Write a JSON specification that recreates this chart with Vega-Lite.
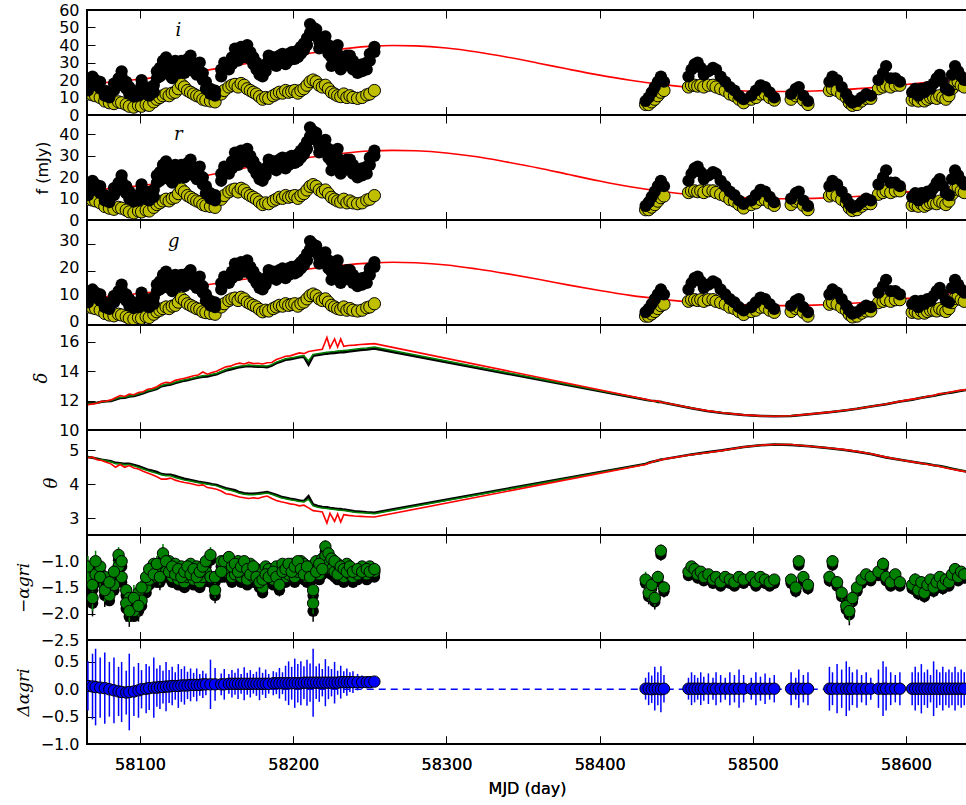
{
"$schema":"https://vega.github.io/schema/vega-lite/v6.json",
"background":"white",
"padding":{"left":13,"top":1,"right":0,"bottom":0},
"spacing":0,
"bounds":"flush",
"config":{
 "view":{"stroke":"black","strokeWidth":2},
 "font":"DejaVu Sans",
 "axis":{"domain":false,"grid":false,"tickColor":"black","tickWidth":1,"tickSize":-8,"labelFontSize":16,"labelColor":"black","labelFont":"DejaVu Sans","labelPadding":16,"labelOverlap":false,"labelBound":false,"labelFlush":false,"titleFont":"DejaVu Sans","titleFontSize":16,"titleFontWeight":"normal","titleColor":"black","titlePadding":8}
},
"datasets":{
"obs":[
{"t":58066,"fi":17,"yi":12,"fr":14.1,"yr":9.7,"fg":10.2,"yg":6.7,"a":-1.1,"b":-1.2,"e":0.2,"d":0.06,"de":0.45,"fi2":14,"fr2":11.6,"fg2":8.4,"a2":-1.3,"b2":-1.4},
{"t":58069,"fi":19,"yi":11.5,"fr":15.8,"yr":9.3,"fg":11.4,"yg":6.4,"a":-1.7,"b":-1.8,"e":0.25,"d":0.05,"de":0.6,"fi2":22,"fr2":18.3,"fg2":13.2,"a2":-1.45,"b2":-1.55},
{"t":58071,"fi":20,"yi":11,"fr":16.6,"yr":8.9,"fg":12,"yg":6.1,"a":-1.0,"b":-1.1,"e":0.2,"d":0.04,"de":0.7,"fi2":17,"fr2":14.1,"fg2":10.2,"a2":-1.25,"b2":-1.35},
{"t":58074,"fi":15,"yi":10,"fr":12.5,"yr":8,"fg":9,"yg":5.5,"a":-1.3,"b":-1.4,"e":0.2,"d":0.03,"de":0.55,"fi2":19,"fr2":15.8,"fg2":11.4,"a2":-1.1,"b2":-1.2},
{"t":58077,"fi":11,"yi":8,"fr":9.1,"yr":6.3,"fg":6.6,"yg":4.3,"a":-1.55,"b":-1.65,"e":0.22,"d":0.02,"de":0.65,"fi2":14,"fr2":11.6,"fg2":8.4,"a2":-1.3,"b2":-1.4},
{"t":58080,"fi":13,"yi":7,"fr":10.8,"yr":5.5,"fg":7.8,"yg":3.7,"a":-1.4,"b":-1.5,"e":0.2,"d":0,"de":0.5,"fi2":10,"fr2":8.3,"fg2":6,"a2":-1.65,"b2":-1.75},
{"t":58083,"fi":18,"yi":6.5,"fr":14.9,"yr":5,"fg":10.8,"yg":3.4,"a":-1.2,"b":-1.3,"e":0.2,"d":-0.02,"de":0.6,"fi2":14,"fr2":11.6,"fg2":8.4,"a2":-1.45,"b2":-1.55},
{"t":58086,"fi":21,"yi":7.5,"fr":17.4,"yr":5.9,"fg":12.6,"yg":4,"a":-0.88,"b":-0.98,"e":0.15,"d":-0.04,"de":0.45,"fi2":17,"fr2":14.1,"fg2":10.2,"a2":-1.1,"b2":-1.2},
{"t":58088,"fi":22,"yi":7,"fr":18.3,"yr":5.5,"fg":13.2,"yg":3.7,"a":-1.0,"b":-1.1,"e":0.18,"d":-0.05,"de":0.55,"fi2":25,"fr2":20.8,"fg2":15,"a2":-1.3,"b2":-1.4},
{"t":58091,"fi":15,"yi":6,"fr":12.5,"yr":4.6,"fg":9,"yg":3.1,"a":-1.8,"b":-1.9,"e":0.25,"d":-0.06,"de":0.4,"fi2":19,"fr2":15.8,"fg2":11.4,"a2":-1.55,"b2":-1.65},
{"t":58093,"fi":12,"yi":5,"fr":10,"yr":3.8,"fg":7.2,"yg":2.5,"a":-1.95,"b":-2.05,"e":0.2,"d":-0.05,"de":0.7,"fi2":16,"fr2":13.3,"fg2":9.6,"a2":-1.7,"b2":-1.8},
{"t":58096,"fi":10.5,"yi":4.5,"fr":8.7,"yr":3.3,"fg":6.3,"yg":2.2,"a":-1.7,"b":-1.8,"e":0.25,"d":-0.04,"de":0.45,"fi2":13,"fr2":10.8,"fg2":7.8,"a2":-1.95,"b2":-2.05},
{"t":58099,"fi":14,"yi":5.5,"fr":11.6,"yr":4.2,"fg":8.4,"yg":2.8,"a":-1.85,"b":-1.95,"e":0.2,"d":-0.02,"de":0.5,"fi2":11,"fr2":9.1,"fg2":6.6,"a2":-1.6,"b2":-1.7},
{"t":58101,"fi":17,"yi":5,"fr":14.1,"yr":3.8,"fg":10.2,"yg":2.5,"a":-1.5,"b":-1.6,"e":0.2,"d":0,"de":0.35,"fi2":20,"fr2":16.6,"fg2":12,"a2":-1.75,"b2":-1.85},
{"t":58104,"fi":12,"yi":6,"fr":10,"yr":4.6,"fg":7.2,"yg":3.1,"a":-1.3,"b":-1.4,"e":0.18,"d":0.01,"de":0.45,"fi2":16,"fr2":13.3,"fg2":9.6,"a2":-1.5,"b2":-1.6},
{"t":58106,"fi":11,"yi":5.5,"fr":9.1,"yr":4.2,"fg":6.6,"yg":2.8,"a":-1.15,"b":-1.25,"e":0.15,"d":0.02,"de":0.4,"fi2":14,"fr2":11.6,"fg2":8.4,"a2":-1.35,"b2":-1.45},
{"t":58109,"fi":17,"yi":7.5,"fr":14.1,"yr":5.9,"fg":10.2,"yg":4,"a":-1.25,"b":-1.35,"e":0.15,"d":0.03,"de":0.55,"fi2":13,"fr2":10.8,"fg2":7.8,"a2":-1.05,"b2":-1.15},
{"t":58111,"fi":21,"yi":9,"fr":17.4,"yr":7.2,"fg":12.6,"yg":4.9,"a":-1.05,"b":-1.15,"e":0.15,"d":0.03,"de":0.35,"fi2":25,"fr2":20.8,"fg2":15,"a2":-1.3,"b2":-1.4},
{"t":58113,"fi":27,"yi":10,"fr":22.4,"yr":8,"fg":16.2,"yg":5.5,"a":-1.3,"b":-1.4,"e":0.15,"d":0.04,"de":0.4,"fi2":22,"fr2":18.3,"fg2":13.2,"a2":-1.1,"b2":-1.2},
{"t":58115,"fi":31,"yi":11,"fr":25.7,"yr":8.9,"fg":18.6,"yg":6.1,"a":-0.85,"b":-0.95,"e":0.18,"d":0.04,"de":0.3,"fi2":24,"fr2":19.9,"fg2":14.4,"a2":-1.05,"b2":-1.15},
{"t":58117,"fi":28,"yi":12,"fr":23.2,"yr":9.7,"fg":16.8,"yg":6.7,"a":-1.0,"b":-1.1,"e":0.12,"d":0.05,"de":0.45,"fi2":33,"fr2":27.4,"fg2":19.8,"a2":-1.2,"b2":-1.3},
{"t":58119,"fi":23,"yi":11,"fr":19.1,"yr":8.9,"fg":13.8,"yg":6.1,"a":-1.2,"b":-1.3,"e":0.12,"d":0.05,"de":0.3,"fi2":27,"fr2":22.4,"fg2":16.2,"a2":-1.0,"b2":-1.1},
{"t":58121,"fi":25,"yi":12.5,"fr":20.8,"yr":10.1,"fg":15,"yg":7,"a":-1.1,"b":-1.2,"e":0.12,"d":0.06,"de":0.35,"fi2":21,"fr2":17.4,"fg2":12.6,"a2":-1.3,"b2":-1.4},
{"t":58123,"fi":27,"yi":13,"fr":22.4,"yr":10.6,"fg":16.2,"yg":7.3,"a":-1.25,"b":-1.35,"e":0.12,"d":0.06,"de":0.25,"fi2":31,"fr2":25.7,"fg2":18.6,"a2":-1.05,"b2":-1.15},
{"t":58125,"fi":29,"yi":15,"fr":24.1,"yr":12.3,"fg":17.4,"yg":8.5,"a":-1.15,"b":-1.25,"e":0.12,"d":0.06,"de":0.4,"fi2":24,"fr2":19.9,"fg2":14.4,"a2":-1.35,"b2":-1.45},
{"t":58127,"fi":26,"yi":17.5,"fr":21.6,"yr":14.4,"fg":15.6,"yg":10,"a":-1.3,"b":-1.4,"e":0.12,"d":0.07,"de":0.3,"fi2":31,"fr2":25.7,"fg2":18.6,"a2":-1.1,"b2":-1.2},
{"t":58129,"fi":29,"yi":16,"fr":24.1,"yr":13.1,"fg":17.4,"yg":9.1,"a":-1.2,"b":-1.3,"e":0.12,"d":0.07,"de":0.35,"fi2":24,"fr2":19.9,"fg2":14.4,"a2":-1.4,"b2":-1.5},
{"t":58131,"fi":32,"yi":14,"fr":26.6,"yr":11.4,"fg":19.2,"yg":7.9,"a":-1.1,"b":-1.2,"e":0.1,"d":0.07,"de":0.25,"fi2":28,"fr2":23.2,"fg2":16.8,"a2":-1.3,"b2":-1.4},
{"t":58133,"fi":30,"yi":13,"fr":24.9,"yr":10.6,"fg":18,"yg":7.3,"a":-1.25,"b":-1.35,"e":0.1,"d":0.08,"de":0.3,"fi2":34,"fr2":28.2,"fg2":20.4,"a2":-1.05,"b2":-1.15},
{"t":58135,"fi":25,"yi":12,"fr":20.8,"yr":9.7,"fg":15,"yg":6.7,"a":-1.15,"b":-1.25,"e":0.1,"d":0.08,"de":0.22,"fi2":29,"fr2":24.1,"fg2":17.4,"a2":-1.35,"b2":-1.45},
{"t":58137,"fi":28,"yi":11,"fr":23.2,"yr":8.9,"fg":16.8,"yg":6.1,"a":-1.3,"b":-1.4,"e":0.1,"d":0.08,"de":0.3,"fi2":23,"fr2":19.1,"fg2":13.8,"a2":-1.1,"b2":-1.2},
{"t":58139,"fi":25,"yi":10.5,"fr":20.8,"yr":8.4,"fg":15,"yg":5.8,"a":-1.2,"b":-1.3,"e":0.1,"d":0.08,"de":0.2,"fi2":30,"fr2":24.9,"fg2":18,"a2":-1.4,"b2":-1.5},
{"t":58141,"fi":20,"yi":9,"fr":16.6,"yr":7.2,"fg":12,"yg":4.9,"a":-1.1,"b":-1.2,"e":0.1,"d":0.09,"de":0.25,"fi2":24,"fr2":19.9,"fg2":14.4,"a2":-1.3,"b2":-1.4},
{"t":58143,"fi":15,"yi":8.5,"fr":12.5,"yr":6.7,"fg":9,"yg":4.6,"a":-1.0,"b":-1.1,"e":0.12,"d":0.09,"de":0.2,"fi2":19,"fr2":15.8,"fg2":11.4,"a2":-1.2,"b2":-1.3},
{"t":58146,"fi":12,"yi":8,"fr":10,"yr":6.3,"fg":7.2,"yg":4.3,"a":-0.88,"b":-0.98,"e":0.15,"d":0.09,"de":0.45,"fi2":15,"fr2":12.5,"fg2":9,"a2":-1.3,"b2":-1.4},
{"t":58149,"fi":11,"yi":7.5,"fr":9.1,"yr":5.9,"fg":6.6,"yg":4,"a":-1.55,"b":-1.65,"e":0.15,"d":0.09,"de":0.3,"fi2":14,"fr2":11.6,"fg2":8.4,"a2":-1.3,"b2":-1.4},
{"t":58153,"fi":22,"yi":12,"fr":18.3,"yr":9.7,"fg":13.2,"yg":6.7,"a":-1.2,"b":-1.3,"e":0.1,"d":0.09,"de":0.2,"fi2":26,"fr2":21.6,"fg2":15.6,"a2":-1.0,"b2":-1.1},
{"t":58155,"fi":26,"yi":14,"fr":21.6,"yr":11.4,"fg":15.6,"yg":7.9,"a":-1.0,"b":-1.1,"e":0.1,"d":0.09,"de":0.28,"fi2":30,"fr2":24.9,"fg2":18,"a2":-1.2,"b2":-1.3},
{"t":58158,"fi":30,"yi":16,"fr":24.9,"yr":13.1,"fg":18,"yg":9.1,"a":-0.92,"b":-1.02,"e":0.1,"d":0.1,"de":0.18,"fi2":26,"fr2":21.6,"fg2":15.6,"a2":-1.15,"b2":-1.25},
{"t":58160,"fi":33,"yi":17,"fr":27.4,"yr":14,"fg":19.8,"yg":9.7,"a":-1.1,"b":-1.2,"e":0.1,"d":0.1,"de":0.25,"fi2":29,"fr2":24.1,"fg2":17.4,"a2":-1.3,"b2":-1.4},
{"t":58162,"fi":34,"yi":17.5,"fr":28.2,"yr":14.4,"fg":20.4,"yg":10,"a":-1.05,"b":-1.15,"e":0.1,"d":0.1,"de":0.2,"fi2":38,"fr2":31.5,"fg2":22.8,"a2":-1.25,"b2":-1.35},
{"t":58164,"fi":36,"yi":16,"fr":29.9,"yr":13.1,"fg":21.6,"yg":9.1,"a":-1.2,"b":-1.3,"e":0.1,"d":0.1,"de":0.28,"fi2":31,"fr2":25.7,"fg2":18.6,"a2":-1.0,"b2":-1.1},
{"t":58166,"fi":35,"yi":18,"fr":29.1,"yr":14.8,"fg":21,"yg":10.3,"a":-1.1,"b":-1.2,"e":0.1,"d":0.1,"de":0.18,"fi2":39,"fr2":32.4,"fg2":23.4,"a2":-1.3,"b2":-1.4},
{"t":58168,"fi":37,"yi":17,"fr":30.7,"yr":14,"fg":22.2,"yg":9.7,"a":-1.0,"b":-1.1,"e":0.1,"d":0.1,"de":0.3,"fi2":33,"fr2":27.4,"fg2":19.8,"a2":-1.2,"b2":-1.3},
{"t":58170,"fi":36,"yi":15,"fr":29.9,"yr":12.3,"fg":21.6,"yg":8.5,"a":-1.15,"b":-1.25,"e":0.1,"d":0.1,"de":0.2,"fi2":40,"fr2":33.2,"fg2":24,"a2":-1.35,"b2":-1.45},
{"t":58172,"fi":32,"yi":14,"fr":26.6,"yr":11.4,"fg":19.2,"yg":7.9,"a":-1.25,"b":-1.35,"e":0.1,"d":0.1,"de":0.25,"fi2":36,"fr2":29.9,"fg2":21.6,"a2":-1.05,"b2":-1.15},
{"t":58174,"fi":29,"yi":13,"fr":24.1,"yr":10.6,"fg":17.4,"yg":7.3,"a":-1.1,"b":-1.2,"e":0.1,"d":0.1,"de":0.18,"fi2":33,"fr2":27.4,"fg2":19.8,"a2":-1.3,"b2":-1.4},
{"t":58176,"fi":26,"yi":12,"fr":21.6,"yr":9.7,"fg":15.6,"yg":6.7,"a":-1.3,"b":-1.4,"e":0.1,"d":0.1,"de":0.22,"fi2":30,"fr2":24.9,"fg2":18,"a2":-1.15,"b2":-1.25},
{"t":58178,"fi":23,"yi":10.5,"fr":19.1,"yr":8.4,"fg":13.8,"yg":5.8,"a":-1.4,"b":-1.5,"e":0.12,"d":0.1,"de":0.3,"fi2":27,"fr2":22.4,"fg2":16.2,"a2":-1.2,"b2":-1.3},
{"t":58180,"fi":26,"yi":9,"fr":21.6,"yr":7.2,"fg":15.6,"yg":4.9,"a":-1.35,"b":-1.45,"e":0.12,"d":0.1,"de":0.2,"fi2":22,"fr2":18.3,"fg2":13.2,"a2":-1.5,"b2":-1.6},
{"t":58182,"fi":29,"yi":10,"fr":24.1,"yr":8,"fg":17.4,"yg":5.5,"a":-1.25,"b":-1.35,"e":0.1,"d":0.1,"de":0.26,"fi2":25,"fr2":20.8,"fg2":15,"a2":-1.1,"b2":-1.2},
{"t":58184,"fi":31,"yi":9.5,"fr":25.7,"yr":7.6,"fg":18.6,"yg":5.2,"a":-1.3,"b":-1.4,"e":0.1,"d":0.1,"de":0.18,"fi2":34,"fr2":28.2,"fg2":20.4,"a2":-1.15,"b2":-1.25},
{"t":58187,"fi":29,"yi":11,"fr":24.1,"yr":8.9,"fg":17.4,"yg":6.1,"a":-1.2,"b":-1.3,"e":0.1,"d":0.11,"de":0.22,"fi2":33,"fr2":27.4,"fg2":19.8,"a2":-1.35,"b2":-1.45},
{"t":58189,"fi":32,"yi":12,"fr":26.6,"yr":9.7,"fg":19.2,"yg":6.7,"a":-1.3,"b":-1.4,"e":0.1,"d":0.11,"de":0.2,"fi2":28,"fr2":23.2,"fg2":16.8,"a2":-1.1,"b2":-1.2},
{"t":58191,"fi":34,"yi":13,"fr":28.2,"yr":10.6,"fg":20.4,"yg":7.3,"a":-1.45,"b":-1.55,"e":0.12,"d":0.11,"de":0.28,"fi2":30,"fr2":24.9,"fg2":18,"a2":-1.25,"b2":-1.35},
{"t":58193,"fi":30,"yi":12.5,"fr":24.9,"yr":10.1,"fg":18,"yg":7,"a":-1.2,"b":-1.3,"e":0.1,"d":0.11,"de":0.2,"fi2":35,"fr2":29.1,"fg2":21,"a2":-1.05,"b2":-1.15},
{"t":58195,"fi":33,"yi":14,"fr":27.4,"yr":11.4,"fg":19.8,"yg":7.9,"a":-1.15,"b":-1.25,"e":0.1,"d":0.11,"de":0.32,"fi2":29,"fr2":24.1,"fg2":17.4,"a2":-1.3,"b2":-1.4},
{"t":58197,"fi":35,"yi":13,"fr":29.1,"yr":10.6,"fg":21,"yg":7.3,"a":-1.05,"b":-1.15,"e":0.1,"d":0.11,"de":0.4,"fi2":31,"fr2":25.7,"fg2":18.6,"a2":-1.25,"b2":-1.35},
{"t":58199,"fi":32,"yi":13.5,"fr":26.6,"yr":11,"fg":19.2,"yg":7.6,"a":-1.2,"b":-1.3,"e":0.1,"d":0.11,"de":0.3,"fi2":36,"fr2":29.9,"fg2":21.6,"a2":-1.05,"b2":-1.15},
{"t":58201,"fi":36,"yi":14,"fr":29.9,"yr":11.4,"fg":21.6,"yg":7.9,"a":-1.1,"b":-1.2,"e":0.1,"d":0.11,"de":0.45,"fi2":32,"fr2":26.6,"fg2":19.2,"a2":-1.3,"b2":-1.4},
{"t":58203,"fi":37,"yi":12.5,"fr":30.7,"yr":10.1,"fg":22.2,"yg":7,"a":-1.0,"b":-1.1,"e":0.1,"d":0.11,"de":0.35,"fi2":33,"fr2":27.4,"fg2":19.8,"a2":-1.2,"b2":-1.3},
{"t":58205,"fi":39,"yi":14,"fr":32.4,"yr":11.4,"fg":23.4,"yg":7.9,"a":-1.15,"b":-1.25,"e":0.1,"d":0.11,"de":0.4,"fi2":35,"fr2":29.1,"fg2":21,"a2":-1.0,"b2":-1.1},
{"t":58207,"fi":41,"yi":15,"fr":34,"yr":12.3,"fg":24.6,"yg":8.5,"a":-1.25,"b":-1.35,"e":0.1,"d":0.12,"de":0.3,"fi2":37,"fr2":30.7,"fg2":22.2,"a2":-1.05,"b2":-1.15},
{"t":58209,"fi":44,"yi":17,"fr":36.5,"yr":14,"fg":26.4,"yg":9.7,"a":-1.1,"b":-1.2,"e":0.1,"d":0.12,"de":0.42,"fi2":40,"fr2":33.2,"fg2":24,"a2":-1.3,"b2":-1.4},
{"t":58211,"fi":47,"yi":19,"fr":39,"yr":15.7,"fg":28.2,"yg":10.9,"a":-1.3,"b":-1.4,"e":0.12,"d":0.12,"de":0.35,"fi2":52,"fr2":43.2,"fg2":31.2,"a2":-1.1,"b2":-1.2},
{"t":58213,"fi":50,"yi":20,"fr":41.5,"yr":16.5,"fg":30,"yg":11.5,"a":-1.8,"b":-1.95,"e":0.2,"d":0.12,"de":0.62,"fi2":46,"fr2":38.2,"fg2":27.6,"a2":-1.55,"b2":-1.65},
{"t":58215,"fi":45,"yi":19,"fr":37.4,"yr":15.7,"fg":27,"yg":10.9,"a":-1.2,"b":-1.3,"e":0.1,"d":0.12,"de":0.3,"fi2":49,"fr2":40.7,"fg2":29.4,"a2":-1.0,"b2":-1.1},
{"t":58217,"fi":42,"yi":17,"fr":34.9,"yr":14,"fg":25.2,"yg":9.7,"a":-1.05,"b":-1.15,"e":0.1,"d":0.12,"de":0.35,"fi2":38,"fr2":31.5,"fg2":22.8,"a2":-1.25,"b2":-1.35},
{"t":58219,"fi":44,"yi":16,"fr":36.5,"yr":13.1,"fg":26.4,"yg":9.1,"a":-1.15,"b":-1.25,"e":0.1,"d":0.12,"de":0.25,"fi2":40,"fr2":33.2,"fg2":24,"a2":-0.95,"b2":-1.05},
{"t":58221,"fi":41,"yi":17,"fr":34,"yr":14,"fg":24.6,"yg":9.7,"a":-0.72,"b":-0.82,"e":0.12,"d":0.12,"de":0.43,"fi2":45,"fr2":37.4,"fg2":27,"a2":-0.9,"b2":-1.0},
{"t":58223,"fi":35,"yi":15,"fr":29.1,"yr":12.3,"fg":21,"yg":8.5,"a":-0.85,"b":-0.95,"e":0.1,"d":0.12,"de":0.3,"fi2":40,"fr2":33.2,"fg2":24,"a2":-1.05,"b2":-1.15},
{"t":58225,"fi":28,"yi":13,"fr":23.2,"yr":10.6,"fg":16.8,"yg":7.3,"a":-0.95,"b":-1.05,"e":0.1,"d":0.12,"de":0.25,"fi2":33,"fr2":27.4,"fg2":19.8,"a2":-1.15,"b2":-1.25},
{"t":58227,"fi":38,"yi":12,"fr":31.5,"yr":9.7,"fg":22.8,"yg":6.7,"a":-1.0,"b":-1.1,"e":0.1,"d":0.12,"de":0.38,"fi2":33,"fr2":27.4,"fg2":19.8,"a2":-1.2,"b2":-1.3},
{"t":58229,"fi":35,"yi":11,"fr":29.1,"yr":8.9,"fg":21,"yg":6.1,"a":-1.25,"b":-1.35,"e":0.1,"d":0.12,"de":0.22,"fi2":40,"fr2":33.2,"fg2":24,"a2":-1.05,"b2":-1.15},
{"t":58231,"fi":26,"yi":10.5,"fr":21.6,"yr":8.4,"fg":15.6,"yg":5.8,"a":-1.1,"b":-1.2,"e":0.08,"d":0.13,"de":0.3,"fi2":30,"fr2":24.9,"fg2":18,"a2":-1.25,"b2":-1.35},
{"t":58233,"fi":33,"yi":12,"fr":27.4,"yr":9.7,"fg":19.8,"yg":6.7,"a":-1.15,"b":-1.25,"e":0.08,"d":0.13,"de":0.2,"fi2":28,"fr2":23.2,"fg2":16.8,"a2":-1.3,"b2":-1.4},
{"t":58235,"fi":29,"yi":10,"fr":24.1,"yr":8,"fg":17.4,"yg":5.5,"a":-1.2,"b":-1.3,"e":0.08,"d":0.13,"de":0.25,"fi2":34,"fr2":28.2,"fg2":20.4,"a2":-1.05,"b2":-1.15},
{"t":58237,"fi":34,"yi":11,"fr":28.2,"yr":8.9,"fg":20.4,"yg":6.1,"a":-1.1,"b":-1.2,"e":0.08,"d":0.13,"de":0.18,"fi2":29,"fr2":24.1,"fg2":17.4,"a2":-1.25,"b2":-1.35},
{"t":58239,"fi":26,"yi":10,"fr":21.6,"yr":8,"fg":15.6,"yg":5.5,"a":-1.2,"b":-1.3,"e":0.08,"d":0.13,"de":0.2,"fi2":31,"fr2":25.7,"fg2":18.6,"a2":-1.3,"b2":-1.4},
{"t":58242,"fi":28,"yi":9.5,"fr":23.2,"yr":7.6,"fg":16.8,"yg":5.2,"a":-1.15,"b":-1.25,"e":0.08,"d":0.13,"de":0.15,"fi2":24,"fr2":19.9,"fg2":14.4,"a2":-1.25,"b2":-1.35},
{"t":58245,"fi":25,"yi":10,"fr":20.8,"yr":8,"fg":15,"yg":5.5,"a":-1.2,"b":-1.3,"e":0.08,"d":0.13,"de":0.12,"fi2":29,"fr2":24.1,"fg2":17.4,"a2":-1.1,"b2":-1.2},
{"t":58248,"fi":30,"yi":11.5,"fr":24.9,"yr":9.3,"fg":18,"yg":6.4,"a":-1.15,"b":-1.25,"e":0.08,"d":0.13,"de":0.1,"fi2":26,"fr2":21.6,"fg2":15.6,"a2":-1.25,"b2":-1.35},
{"t":58250,"fi":31,"yi":12,"fr":25.7,"yr":9.7,"fg":18.6,"yg":6.7,"a":-1.2,"b":-1.3,"e":0.08,"d":0.13,"de":0.08,"fi2":35,"fr2":29.1,"fg2":21,"a2":-1.1,"b2":-1.2},
{"t":58253,"fi":39,"yi":14,"fr":32.4,"yr":11.4,"fg":23.4,"yg":7.9,"a":-1.15,"b":-1.25,"e":0.08,"d":0.14,"de":0.06,"fi2":36,"fr2":29.9,"fg2":21.6,"a2":-1.2,"b2":-1.3},
{"t":58430,"fi":8,"yi":6,"fr":6.6,"yr":4.8,"fg":4.8,"yg":3.3,"a":-1.35,"b":-1.42,"e":0.15,"d":0.01,"de":0.2},
{"t":58432,"fi":10,"yi":6,"fr":8.3,"yr":4.8,"fg":6,"yg":3.3,"a":-1.6,"b":-1.67,"e":0.15,"d":0.01,"de":0.3},
{"t":58434,"fi":13,"yi":7.5,"fr":10.8,"yr":6,"fg":7.8,"yg":4.1,"a":-1.45,"b":-1.52,"e":0.15,"d":0,"de":0.25},
{"t":58436,"fi":16,"yi":9,"fr":13.3,"yr":7.2,"fg":9.6,"yg":5,"a":-1.7,"b":-1.77,"e":0.15,"d":0.01,"de":0.4},
{"t":58438,"fi":19,"yi":11,"fr":15.8,"yr":8.8,"fg":11.4,"yg":6.1,"a":-1.3,"b":-1.37,"e":0.12,"d":0.01,"de":0.3},
{"t":58440,"fi":22,"yi":13,"fr":18.3,"yr":10.4,"fg":13.2,"yg":7.2,"a":-0.8,"b":-0.87,"e":0.12,"d":0,"de":0.42},
{"t":58442,"fi":19,"yi":14,"fr":15.8,"yr":11.2,"fg":11.4,"yg":7.7,"a":-1.5,"b":-1.57,"e":0.12,"d":0.01,"de":0.25},
{"t":58458,"fi":22,"yi":16,"fr":18.3,"yr":12.8,"fg":13.2,"yg":8.8,"a":-1.2,"b":-1.27,"e":0.1,"d":0.01,"de":0.2},
{"t":58460,"fi":26,"yi":17,"fr":21.6,"yr":13.6,"fg":15.6,"yg":9.4,"a":-1.1,"b":-1.17,"e":0.1,"d":0.01,"de":0.3},
{"t":58462,"fi":29,"yi":17,"fr":24.1,"yr":13.6,"fg":17.4,"yg":9.4,"a":-1.15,"b":-1.22,"e":0.1,"d":0.01,"de":0.25},
{"t":58464,"fi":30,"yi":16.5,"fr":24.9,"yr":13.2,"fg":18,"yg":9.1,"a":-1.25,"b":-1.32,"e":0.1,"d":0.01,"de":0.2},
{"t":58466,"fi":27,"yi":17,"fr":22.4,"yr":13.6,"fg":16.2,"yg":9.4,"a":-1.2,"b":-1.27,"e":0.1,"d":0.01,"de":0.3},
{"t":58468,"fi":23,"yi":16,"fr":19.1,"yr":12.8,"fg":13.8,"yg":8.8,"a":-1.3,"b":-1.37,"e":0.1,"d":0.01,"de":0.22},
{"t":58471,"fi":25,"yi":17,"fr":20.8,"yr":13.6,"fg":15,"yg":9.4,"a":-1.25,"b":-1.32,"e":0.1,"d":0.01,"de":0.28},
{"t":58474,"fi":27,"yi":17,"fr":22.4,"yr":13.6,"fg":16.2,"yg":9.4,"a":-1.35,"b":-1.42,"e":0.1,"d":0.01,"de":0.2},
{"t":58476,"fi":26,"yi":16,"fr":21.6,"yr":12.8,"fg":15.6,"yg":8.8,"a":-1.3,"b":-1.37,"e":0.1,"d":0.01,"de":0.3},
{"t":58479,"fi":22,"yi":15,"fr":18.3,"yr":12,"fg":13.2,"yg":8.3,"a":-1.4,"b":-1.47,"e":0.1,"d":0.01,"de":0.25},
{"t":58482,"fi":19,"yi":14,"fr":15.8,"yr":11.2,"fg":11.4,"yg":7.7,"a":-1.3,"b":-1.37,"e":0.1,"d":0.01,"de":0.2},
{"t":58485,"fi":16,"yi":12,"fr":13.3,"yr":9.6,"fg":9.6,"yg":6.6,"a":-1.35,"b":-1.42,"e":0.1,"d":0.01,"de":0.3},
{"t":58488,"fi":14,"yi":11,"fr":11.6,"yr":8.8,"fg":8.4,"yg":6.1,"a":-1.4,"b":-1.47,"e":0.1,"d":0.01,"de":0.25},
{"t":58491,"fi":11,"yi":9,"fr":9.1,"yr":7.2,"fg":6.6,"yg":5,"a":-1.3,"b":-1.37,"e":0.1,"d":0.01,"de":0.35},
{"t":58494,"fi":9,"yi":7,"fr":7.5,"yr":5.6,"fg":5.4,"yg":3.9,"a":-1.35,"b":-1.42,"e":0.1,"d":0.01,"de":0.25},
{"t":58499,"fi":11,"yi":9,"fr":9.1,"yr":7.2,"fg":6.6,"yg":5,"a":-1.3,"b":-1.37,"e":0.1,"d":0.01,"de":0.2},
{"t":58502,"fi":14,"yi":10,"fr":11.6,"yr":8,"fg":8.4,"yg":5.5,"a":-1.4,"b":-1.47,"e":0.1,"d":0.01,"de":0.3},
{"t":58505,"fi":17,"yi":12,"fr":14.1,"yr":9.6,"fg":10.2,"yg":6.6,"a":-1.3,"b":-1.37,"e":0.1,"d":0.01,"de":0.22},
{"t":58508,"fi":16,"yi":12,"fr":13.3,"yr":9.6,"fg":9.6,"yg":6.6,"a":-1.35,"b":-1.42,"e":0.1,"d":0.01,"de":0.28},
{"t":58511,"fi":13,"yi":10,"fr":10.8,"yr":8,"fg":7.8,"yg":5.5,"a":-1.4,"b":-1.47,"e":0.1,"d":0.01,"de":0.2},
{"t":58514,"fi":10,"yi":8.5,"fr":8.3,"yr":6.8,"fg":6,"yg":4.7,"a":-1.35,"b":-1.42,"e":0.1,"d":0.01,"de":0.25},
{"t":58525,"fi":12,"yi":9,"fr":10,"yr":7.2,"fg":7.2,"yg":5,"a":-1.35,"b":-1.42,"e":0.1,"d":0.01,"de":0.3},
{"t":58528,"fi":15,"yi":11,"fr":12.5,"yr":8.8,"fg":9,"yg":6.1,"a":-1.5,"b":-1.57,"e":0.12,"d":0.01,"de":0.2},
{"t":58530,"fi":16,"yi":12,"fr":13.3,"yr":9.6,"fg":9.6,"yg":6.6,"a":-1.0,"b":-1.07,"e":0.1,"d":0.01,"de":0.35},
{"t":58533,"fi":11,"yi":8.5,"fr":9.1,"yr":6.8,"fg":6.6,"yg":4.7,"a":-1.3,"b":-1.37,"e":0.1,"d":0.01,"de":0.25},
{"t":58536,"fi":8,"yi":6,"fr":6.6,"yr":4.8,"fg":4.8,"yg":3.3,"a":-1.45,"b":-1.52,"e":0.12,"d":0.01,"de":0.3},
{"t":58550,"fi":19,"yi":14,"fr":15.8,"yr":11.2,"fg":11.4,"yg":7.7,"a":-1.3,"b":-1.37,"e":0.12,"d":0.01,"de":0.4},
{"t":58552,"fi":22,"yi":15,"fr":18.3,"yr":12,"fg":13.2,"yg":8.3,"a":-1.0,"b":-1.07,"e":0.12,"d":0.01,"de":0.3},
{"t":58555,"fi":20,"yi":14,"fr":16.6,"yr":11.2,"fg":12,"yg":7.7,"a":-1.4,"b":-1.47,"e":0.12,"d":0.01,"de":0.45},
{"t":58558,"fi":16,"yi":12,"fr":13.3,"yr":9.6,"fg":9.6,"yg":6.6,"a":-1.6,"b":-1.67,"e":0.15,"d":0.01,"de":0.35},
{"t":58561,"fi":12,"yi":10,"fr":10,"yr":8,"fg":7.2,"yg":5.5,"a":-1.85,"b":-1.92,"e":0.15,"d":0.01,"de":0.5},
{"t":58563,"fi":9,"yi":7,"fr":7.5,"yr":5.6,"fg":5.4,"yg":3.9,"a":-1.95,"b":-2.02,"e":0.2,"d":0.01,"de":0.4},
{"t":58565,"fi":7,"yi":5.5,"fr":5.8,"yr":4.4,"fg":4.2,"yg":3,"a":-1.7,"b":-1.77,"e":0.18,"d":0.01,"de":0.3},
{"t":58568,"fi":8,"yi":6,"fr":6.6,"yr":4.8,"fg":4.8,"yg":3.3,"a":-1.5,"b":-1.57,"e":0.15,"d":0.01,"de":0.35},
{"t":58571,"fi":10,"yi":8,"fr":8.3,"yr":6.4,"fg":6,"yg":4.4,"a":-1.35,"b":-1.42,"e":0.12,"d":0.01,"de":0.25},
{"t":58574,"fi":12,"yi":9.5,"fr":10,"yr":7.6,"fg":7.2,"yg":5.2,"a":-1.25,"b":-1.32,"e":0.1,"d":0.01,"de":0.3},
{"t":58577,"fi":11,"yi":9.5,"fr":9.1,"yr":7.6,"fg":6.6,"yg":5.2,"a":-1.3,"b":-1.37,"e":0.1,"d":0.01,"de":0.2},
{"t":58582,"fi":20,"yi":15,"fr":16.6,"yr":12,"fg":12,"yg":8.3,"a":-1.2,"b":-1.27,"e":0.1,"d":0.01,"de":0.35},
{"t":58585,"fi":24,"yi":16,"fr":19.9,"yr":12.8,"fg":14.4,"yg":8.8,"a":-1.05,"b":-1.12,"e":0.12,"d":0.01,"de":0.5},
{"t":58587,"fi":28,"yi":17,"fr":23.2,"yr":13.6,"fg":16.8,"yg":9.4,"a":-1.3,"b":-1.37,"e":0.12,"d":0.01,"de":0.4},
{"t":58590,"fi":21,"yi":16,"fr":17.4,"yr":12.8,"fg":12.6,"yg":8.8,"a":-1.4,"b":-1.47,"e":0.1,"d":0.01,"de":0.3},
{"t":58593,"fi":21,"yi":17,"fr":17.4,"yr":13.6,"fg":12.6,"yg":9.4,"a":-1.25,"b":-1.32,"e":0.1,"d":0.01,"de":0.25},
{"t":58596,"fi":19,"yi":17,"fr":15.8,"yr":13.6,"fg":11.4,"yg":9.4,"a":-1.4,"b":-1.47,"e":0.1,"d":0.01,"de":0.3},
{"t":58604,"fi":13,"yi":8.5,"fr":10.8,"yr":6.8,"fg":7.8,"yg":4.7,"a":-1.45,"b":-1.52,"e":0.12,"d":0.01,"de":0.3},
{"t":58606,"fi":15,"yi":9,"fr":12.5,"yr":7.2,"fg":9,"yg":5,"a":-1.35,"b":-1.42,"e":0.12,"d":0.01,"de":0.4},
{"t":58608,"fi":11,"yi":8,"fr":9.1,"yr":6.4,"fg":6.6,"yg":4.4,"a":-1.55,"b":-1.62,"e":0.12,"d":0.01,"de":0.3},
{"t":58610,"fi":15,"yi":9.5,"fr":12.5,"yr":7.6,"fg":9,"yg":5.2,"a":-1.4,"b":-1.47,"e":0.12,"d":0.01,"de":0.45},
{"t":58612,"fi":13,"yi":8,"fr":10.8,"yr":6.4,"fg":7.8,"yg":4.4,"a":-1.6,"b":-1.67,"e":0.12,"d":0.01,"de":0.3},
{"t":58614,"fi":16,"yi":9,"fr":13.3,"yr":7.2,"fg":9.6,"yg":5,"a":-1.45,"b":-1.52,"e":0.12,"d":0.01,"de":0.35},
{"t":58616,"fi":15,"yi":10,"fr":12.5,"yr":8,"fg":9,"yg":5.5,"a":-1.35,"b":-1.42,"e":0.1,"d":0.01,"de":0.25},
{"t":58618,"fi":18,"yi":10,"fr":14.9,"yr":8,"fg":10.8,"yg":5.5,"a":-1.5,"b":-1.57,"e":0.12,"d":0.01,"de":0.5},
{"t":58620,"fi":21,"yi":9.5,"fr":17.4,"yr":7.6,"fg":12.6,"yg":5.2,"a":-1.4,"b":-1.47,"e":0.12,"d":0.01,"de":0.35},
{"t":58622,"fi":23,"yi":11,"fr":19.1,"yr":8.8,"fg":13.8,"yg":6.1,"a":-1.3,"b":-1.37,"e":0.1,"d":0.01,"de":0.3},
{"t":58624,"fi":19,"yi":10,"fr":15.8,"yr":8,"fg":11.4,"yg":5.5,"a":-1.45,"b":-1.52,"e":0.12,"d":0.01,"de":0.4},
{"t":58626,"fi":15,"yi":9,"fr":12.5,"yr":7.2,"fg":9,"yg":5,"a":-1.35,"b":-1.42,"e":0.1,"d":0.01,"de":0.3},
{"t":58628,"fi":14,"yi":11,"fr":11.6,"yr":8.8,"fg":8.4,"yg":6.1,"a":-1.4,"b":-1.47,"e":0.1,"d":0.01,"de":0.35},
{"t":58630,"fi":23,"yi":15,"fr":19.1,"yr":12,"fg":13.8,"yg":8.3,"a":-1.25,"b":-1.32,"e":0.1,"d":0.01,"de":0.3},
{"t":58632,"fi":28,"yi":18,"fr":23.2,"yr":14.4,"fg":16.8,"yg":9.9,"a":-1.15,"b":-1.22,"e":0.1,"d":0.01,"de":0.4},
{"t":58634,"fi":25,"yi":19,"fr":20.8,"yr":15.2,"fg":15,"yg":10.5,"a":-1.3,"b":-1.37,"e":0.1,"d":0.01,"de":0.3},
{"t":58636,"fi":22,"yi":17,"fr":18.3,"yr":13.6,"fg":13.2,"yg":9.4,"a":-1.2,"b":-1.27,"e":0.1,"d":0.01,"de":0.35},
{"t":58638,"fi":20,"yi":16,"fr":16.6,"yr":12.8,"fg":12,"yg":8.8,"a":-1.25,"b":-1.32,"e":0.1,"d":0.01,"de":0.3}
],
"lin":[
{"t":58066,"dr":11.72,"dn":11.8,"dk":11.85,"hr":4.78,"hn":4.8,"hk":4.8},
{"t":58069,"dr":11.78,"dn":11.8,"dk":11.83,"hr":4.8,"hn":4.79,"hk":4.78},
{"t":58072,"dr":11.82,"dn":11.84,"dk":11.86,"hr":4.72,"hn":4.74,"hk":4.75},
{"t":58075,"dr":11.95,"dn":11.93,"dk":11.92,"hr":4.7,"hn":4.72,"hk":4.72},
{"t":58078,"dr":11.98,"dn":11.96,"dk":11.95,"hr":4.65,"hn":4.69,"hk":4.7},
{"t":58081,"dr":12.05,"dn":12.0,"dk":11.98,"hr":4.6,"hn":4.66,"hk":4.68},
{"t":58084,"dr":12.2,"dn":12.12,"dk":12.08,"hr":4.5,"hn":4.6,"hk":4.63},
{"t":58087,"dr":12.35,"dn":12.22,"dk":12.18,"hr":4.58,"hn":4.6,"hk":4.62},
{"t":58090,"dr":12.28,"dn":12.25,"dk":12.2,"hr":4.5,"hn":4.57,"hk":4.6},
{"t":58093,"dr":12.45,"dn":12.32,"dk":12.28,"hr":4.55,"hn":4.58,"hk":4.6},
{"t":58096,"dr":12.4,"dn":12.36,"dk":12.32,"hr":4.48,"hn":4.54,"hk":4.57},
{"t":58099,"dr":12.55,"dn":12.45,"dk":12.4,"hr":4.45,"hn":4.5,"hk":4.53},
{"t":58102,"dr":12.6,"dn":12.55,"dk":12.5,"hr":4.38,"hn":4.45,"hk":4.48},
{"t":58105,"dr":12.78,"dn":12.68,"dk":12.62,"hr":4.33,"hn":4.4,"hk":4.43},
{"t":58108,"dr":12.82,"dn":12.74,"dk":12.7,"hr":4.28,"hn":4.36,"hk":4.4},
{"t":58111,"dr":12.95,"dn":12.85,"dk":12.8,"hr":4.22,"hn":4.32,"hk":4.36},
{"t":58114,"dr":13.15,"dn":13.02,"dk":12.98,"hr":4.15,"hn":4.28,"hk":4.3},
{"t":58117,"dr":13.25,"dn":13.12,"dk":13.05,"hr":4.15,"hn":4.25,"hk":4.28},
{"t":58120,"dr":13.22,"dn":13.15,"dk":13.1,"hr":4.18,"hn":4.25,"hk":4.28},
{"t":58123,"dr":13.38,"dn":13.25,"dk":13.2,"hr":4.12,"hn":4.2,"hk":4.24},
{"t":58126,"dr":13.45,"dn":13.33,"dk":13.28,"hr":4.08,"hn":4.16,"hk":4.2},
{"t":58129,"dr":13.52,"dn":13.42,"dk":13.36,"hr":4.05,"hn":4.12,"hk":4.16},
{"t":58132,"dr":13.6,"dn":13.48,"dk":13.42,"hr":4.03,"hn":4.1,"hk":4.13},
{"t":58135,"dr":13.7,"dn":13.55,"dk":13.5,"hr":4.0,"hn":4.07,"hk":4.1},
{"t":58138,"dr":13.75,"dn":13.62,"dk":13.57,"hr":3.96,"hn":4.04,"hk":4.07},
{"t":58141,"dr":13.95,"dn":13.7,"dk":13.62,"hr":3.98,"hn":4.03,"hk":4.05},
{"t":58144,"dr":13.8,"dn":13.72,"dk":13.65,"hr":3.9,"hn":4.0,"hk":4.03},
{"t":58147,"dr":13.92,"dn":13.8,"dk":13.72,"hr":3.88,"hn":3.98,"hk":4.0},
{"t":58150,"dr":14.0,"dn":13.85,"dk":13.8,"hr":3.85,"hn":3.95,"hk":3.98},
{"t":58153,"dr":14.15,"dn":13.98,"dk":13.92,"hr":3.8,"hn":3.9,"hk":3.93},
{"t":58156,"dr":14.3,"dn":14.12,"dk":14.05,"hr":3.72,"hn":3.85,"hk":3.88},
{"t":58159,"dr":14.35,"dn":14.2,"dk":14.12,"hr":3.7,"hn":3.82,"hk":3.85},
{"t":58162,"dr":14.48,"dn":14.28,"dk":14.2,"hr":3.66,"hn":3.78,"hk":3.82},
{"t":58165,"dr":14.55,"dn":14.35,"dk":14.28,"hr":3.62,"hn":3.73,"hk":3.76},
{"t":58168,"dr":14.5,"dn":14.38,"dk":14.32,"hr":3.6,"hn":3.7,"hk":3.73},
{"t":58171,"dr":14.6,"dn":14.42,"dk":14.35,"hr":3.58,"hn":3.69,"hk":3.72},
{"t":58174,"dr":14.52,"dn":14.4,"dk":14.33,"hr":3.6,"hn":3.69,"hk":3.72},
{"t":58177,"dr":14.55,"dn":14.38,"dk":14.3,"hr":3.58,"hn":3.7,"hk":3.73},
{"t":58180,"dr":14.5,"dn":14.36,"dk":14.3,"hr":3.62,"hn":3.72,"hk":3.75},
{"t":58183,"dr":14.58,"dn":14.35,"dk":14.28,"hr":3.65,"hn":3.74,"hk":3.77},
{"t":58186,"dr":14.6,"dn":14.45,"dk":14.38,"hr":3.58,"hn":3.7,"hk":3.73},
{"t":58189,"dr":14.8,"dn":14.62,"dk":14.55,"hr":3.52,"hn":3.65,"hk":3.68},
{"t":58192,"dr":14.9,"dn":14.74,"dk":14.66,"hr":3.48,"hn":3.6,"hk":3.63},
{"t":58195,"dr":15.02,"dn":14.85,"dk":14.78,"hr":3.45,"hn":3.57,"hk":3.6},
{"t":58198,"dr":15.05,"dn":14.9,"dk":14.82,"hr":3.42,"hn":3.54,"hk":3.57},
{"t":58201,"dr":15.15,"dn":14.95,"dk":14.88,"hr":3.4,"hn":3.52,"hk":3.55},
{"t":58204,"dr":15.25,"dn":15.02,"dk":14.95,"hr":3.36,"hn":3.49,"hk":3.52},
{"t":58207,"dr":15.2,"dn":15.05,"dk":14.98,"hr":3.38,"hn":3.48,"hk":3.5},
{"t":58210,"dr":15.35,"dn":14.7,"dk":14.45,"hr":3.3,"hn":3.55,"hk":3.65},
{"t":58213,"dr":15.4,"dn":15.15,"dk":15.05,"hr":3.22,"hn":3.36,"hk":3.4},
{"t":58216,"dr":15.45,"dn":15.2,"dk":15.1,"hr":3.2,"hn":3.32,"hk":3.36},
{"t":58219,"dr":15.5,"dn":15.25,"dk":15.15,"hr":3.18,"hn":3.3,"hk":3.33},
{"t":58222,"dr":16.3,"dn":15.3,"dk":15.2,"hr":2.85,"hn":3.28,"hk":3.32},
{"t":58224,"dr":15.6,"dn":15.32,"dk":15.22,"hr":3.14,"hn":3.27,"hk":3.3},
{"t":58227,"dr":16.2,"dn":15.35,"dk":15.25,"hr":2.9,"hn":3.25,"hk":3.28},
{"t":58229,"dr":15.65,"dn":15.38,"dk":15.27,"hr":3.12,"hn":3.24,"hk":3.27},
{"t":58231,"dr":16.2,"dn":15.4,"dk":15.3,"hr":2.88,"hn":3.23,"hk":3.27},
{"t":58233,"dr":15.7,"dn":15.42,"dk":15.3,"hr":3.1,"hn":3.22,"hk":3.25},
{"t":58236,"dr":15.75,"dn":15.45,"dk":15.35,"hr":3.08,"hn":3.2,"hk":3.23},
{"t":58240,"dr":15.78,"dn":15.5,"dk":15.4,"hr":3.06,"hn":3.17,"hk":3.2},
{"t":58244,"dr":15.82,"dn":15.55,"dk":15.45,"hr":3.05,"hn":3.16,"hk":3.19},
{"t":58248,"dr":15.85,"dn":15.58,"dk":15.48,"hr":3.04,"hn":3.15,"hk":3.17},
{"t":58253,"dr":15.88,"dn":15.65,"dk":15.55,"hr":3.03,"hn":3.13,"hk":3.16},
{"t":58430,"dr":12.1,"dn":12.08,"dk":12.06,"hr":4.58,"hn":4.59,"hk":4.6},
{"t":58433,"dr":12.02,"dn":12.0,"dk":12.0,"hr":4.63,"hn":4.64,"hk":4.65},
{"t":58436,"dr":11.95,"dn":11.95,"dk":11.98,"hr":4.68,"hn":4.68,"hk":4.68},
{"t":58438,"dr":12.0,"dn":11.92,"dk":11.9,"hr":4.72,"hn":4.7,"hk":4.7},
{"t":58440,"dr":11.88,"dn":11.9,"dk":11.92,"hr":4.7,"hn":4.72,"hk":4.73},
{"t":58442,"dr":11.87,"dn":11.86,"dk":11.85,"hr":4.74,"hn":4.74,"hk":4.74},
{"t":58460,"dr":11.5,"dn":11.5,"dk":11.48,"hr":4.87,"hn":4.87,"hk":4.88},
{"t":58470,"dr":11.32,"dn":11.32,"dk":11.3,"hr":4.93,"hn":4.93,"hk":4.94},
{"t":58480,"dr":11.17,"dn":11.17,"dk":11.15,"hr":4.99,"hn":4.99,"hk":5.0},
{"t":58494,"dr":11.03,"dn":11.03,"dk":11.02,"hr":5.1,"hn":5.1,"hk":5.1},
{"t":58505,"dr":10.96,"dn":10.96,"dk":10.95,"hr":5.15,"hn":5.15,"hk":5.15},
{"t":58514,"dr":10.94,"dn":10.94,"dk":10.93,"hr":5.17,"hn":5.17,"hk":5.17},
{"t":58525,"dr":10.97,"dn":10.97,"dk":10.96,"hr":5.17,"hn":5.17,"hk":5.16},
{"t":58537,"dr":11.08,"dn":11.08,"dk":11.07,"hr":5.12,"hn":5.12,"hk":5.12},
{"t":58550,"dr":11.22,"dn":11.22,"dk":11.21,"hr":5.07,"hn":5.07,"hk":5.06},
{"t":58560,"dr":11.35,"dn":11.35,"dk":11.33,"hr":5.02,"hn":5.02,"hk":5.01},
{"t":58568,"dr":11.45,"dn":11.45,"dk":11.44,"hr":4.97,"hn":4.97,"hk":4.96},
{"t":58577,"dr":11.6,"dn":11.6,"dk":11.6,"hr":4.9,"hn":4.9,"hk":4.89},
{"t":58587,"dr":11.77,"dn":11.77,"dk":11.76,"hr":4.8,"hn":4.8,"hk":4.79},
{"t":58596,"dr":11.95,"dn":11.95,"dk":11.94,"hr":4.72,"hn":4.72,"hk":4.72},
{"t":58604,"dr":12.1,"dn":12.08,"dk":12.06,"hr":4.66,"hn":4.66,"hk":4.66},
{"t":58610,"dr":12.18,"dn":12.2,"dk":12.2,"hr":4.62,"hn":4.61,"hk":4.62},
{"t":58614,"dr":12.3,"dn":12.28,"dk":12.26,"hr":4.58,"hn":4.59,"hk":4.6},
{"t":58618,"dr":12.35,"dn":12.34,"dk":12.33,"hr":4.56,"hn":4.56,"hk":4.56},
{"t":58622,"dr":12.48,"dn":12.45,"dk":12.42,"hr":4.52,"hn":4.53,"hk":4.54},
{"t":58626,"dr":12.5,"dn":12.5,"dk":12.5,"hr":4.48,"hn":4.49,"hk":4.5},
{"t":58630,"dr":12.6,"dn":12.58,"dk":12.56,"hr":4.44,"hn":4.45,"hk":4.46},
{"t":58635,"dr":12.7,"dn":12.68,"dk":12.66,"hr":4.4,"hn":4.41,"hk":4.41},
{"t":58640,"dr":12.76,"dn":12.75,"dk":12.74,"hr":4.36,"hn":4.37,"hk":4.37}
],
"mod":[
{"t":58066,"mi":17.5,"mr":14,"mg":10},
{"t":58096,"mi":20.1,"mr":15.7,"mg":11.5},
{"t":58130,"mi":23.8,"mr":19,"mg":13.8},
{"t":58170,"mi":29.4,"mr":24.5,"mg":17.2},
{"t":58210,"mi":35.2,"mr":29.2,"mg":20.8},
{"t":58250,"mi":39.2,"mr":32.2,"mg":23},
{"t":58265,"mi":39.7,"mr":32.5,"mg":23.3},
{"t":58280,"mi":39.5,"mr":32.3,"mg":23.1},
{"t":58300,"mi":38.3,"mr":31.3,"mg":22.3},
{"t":58320,"mi":36,"mr":29.5,"mg":20.8},
{"t":58340,"mi":33,"mr":27,"mg":19},
{"t":58360,"mi":29.6,"mr":24.3,"mg":17},
{"t":58380,"mi":26.1,"mr":21.2,"mg":14.8},
{"t":58400,"mi":22.8,"mr":18.2,"mg":12.8},
{"t":58420,"mi":19.9,"mr":15.5,"mg":11},
{"t":58440,"mi":17.5,"mr":13.4,"mg":9.6},
{"t":58460,"mi":15.6,"mr":11.8,"mg":8.5},
{"t":58480,"mi":14.3,"mr":10.8,"mg":7.8},
{"t":58500,"mi":13.6,"mr":10.2,"mg":7.4},
{"t":58520,"mi":13.4,"mr":9.9,"mg":7.2},
{"t":58540,"mi":13.7,"mr":10.1,"mg":7.4},
{"t":58560,"mi":14.5,"mr":10.7,"mg":7.9},
{"t":58580,"mi":15.8,"mr":11.7,"mg":8.7},
{"t":58600,"mi":17.4,"mr":13,"mg":9.8},
{"t":58620,"mi":19.2,"mr":14.5,"mg":11},
{"t":58640,"mi":21,"mr":16,"mg":12.2}
]
},
"vconcat":[
{
 "width":880,"height":105,
 "data":{"name":"obs"},
 "resolve":{"axis":{"x":"independent"}},
 "encoding":{"x":{"field":"t","type":"quantitative","scale":{"domain":[58065.4,58639.8],"nice":false,"zero":false},"axis":{"orient":"bottom","values":[58100,58200,58300,58400,58500,58600],"labels":false,"title":null}}},
 "layer":[
  {"data":{"name":"mod"},"mark":{"type":"line","color":"#ff0000","strokeWidth":1.6,"interpolate":"monotone","clip":true},
   "encoding":{"x":{"field":"t","type":"quantitative","scale":{"domain":[58065.4,58639.8],"nice":false,"zero":false},"axis":{"orient":"top","values":[58100,58200,58300,58400,58500,58600],"labels":false,"title":null}},
   "y":{"field":"mi","type":"quantitative","scale":{"domain":[0,60],"nice":false,"zero":false},"axis":{"values":[0,10,20,30,40,50,60],"title":null}}}},
  {"mark":{"type":"circle","size":150,"fill":"#bfbf00","stroke":"black","strokeWidth":1,"opacity":1,"clip":true},
   "encoding":{"y":{"field":"yi","type":"quantitative","scale":{"domain":[0,60],"nice":false,"zero":false},"axis":{"values":[0,10,20,30,40,50,60],"title":null}}}},
  {"mark":{"type":"circle","size":150,"color":"black","opacity":1,"clip":true},
   "encoding":{"y":{"field":"fi2","type":"quantitative","scale":{"domain":[0,60],"nice":false,"zero":false},"axis":{"values":[0,10,20,30,40,50,60],"title":null}}}},
  {"mark":{"type":"circle","size":150,"color":"black","opacity":1,"clip":true},
   "encoding":{"y":{"field":"fi","type":"quantitative","scale":{"domain":[0,60],"nice":false,"zero":false},"axis":{"values":[0,10,20,30,40,50,60],"title":null}}}},
  {"data":{"values":[{"t":58125,"v":48,"s":"i"}]},"mark":{"type":"text","font":"DejaVu Serif","fontStyle":"italic","fontSize":18,"color":"black"},
   "encoding":{"y":{"field":"v","type":"quantitative","scale":{"domain":[0,60],"nice":false,"zero":false},"axis":{"values":[0,10,20,30,40,50,60],"title":null}},"text":{"field":"s"}}}
 ]
},
{
 "width":880,"height":105,
 "data":{"name":"obs"},
 "resolve":{"axis":{"x":"independent"}},
 "encoding":{"x":{"field":"t","type":"quantitative","scale":{"domain":[58065.4,58639.8],"nice":false,"zero":false},"axis":{"orient":"bottom","values":[58100,58200,58300,58400,58500,58600],"labels":false,"title":null}}},
 "layer":[
  {"data":{"name":"mod"},"mark":{"type":"line","color":"#ff0000","strokeWidth":1.6,"interpolate":"monotone","clip":true},
   "encoding":{"x":{"field":"t","type":"quantitative","scale":{"domain":[58065.4,58639.8],"nice":false,"zero":false},"axis":{"orient":"top","values":[58100,58200,58300,58400,58500,58600],"labels":false,"title":null}},
   "y":{"field":"mr","type":"quantitative","scale":{"domain":[0,49],"nice":false,"zero":false},"axis":{"values":[0,10,20,30,40],"title":"f (mJy)"}}}},
  {"mark":{"type":"circle","size":150,"fill":"#bfbf00","stroke":"black","strokeWidth":1,"opacity":1,"clip":true},
   "encoding":{"y":{"field":"yr","type":"quantitative","scale":{"domain":[0,49],"nice":false,"zero":false},"axis":{"values":[0,10,20,30,40],"title":"f (mJy)"}}}},
  {"mark":{"type":"circle","size":150,"color":"black","opacity":1,"clip":true},
   "encoding":{"y":{"field":"fr2","type":"quantitative","scale":{"domain":[0,49],"nice":false,"zero":false},"axis":{"values":[0,10,20,30,40],"title":"f (mJy)"}}}},
  {"mark":{"type":"circle","size":150,"color":"black","opacity":1,"clip":true},
   "encoding":{"y":{"field":"fr","type":"quantitative","scale":{"domain":[0,49],"nice":false,"zero":false},"axis":{"values":[0,10,20,30,40],"title":"f (mJy)"}}}},
  {"data":{"values":[{"t":58125,"v":39.5,"s":"r"}]},"mark":{"type":"text","font":"DejaVu Serif","fontStyle":"italic","fontSize":18,"color":"black"},
   "encoding":{"y":{"field":"v","type":"quantitative","scale":{"domain":[0,49],"nice":false,"zero":false},"axis":{"values":[0,10,20,30,40],"title":"f (mJy)"}},"text":{"field":"s"}}}
 ]
},
{
 "width":880,"height":105,
 "data":{"name":"obs"},
 "resolve":{"axis":{"x":"independent"}},
 "encoding":{"x":{"field":"t","type":"quantitative","scale":{"domain":[58065.4,58639.8],"nice":false,"zero":false},"axis":{"orient":"bottom","values":[58100,58200,58300,58400,58500,58600],"labels":false,"title":null}}},
 "layer":[
  {"data":{"name":"mod"},"mark":{"type":"line","color":"#ff0000","strokeWidth":1.6,"interpolate":"monotone","clip":true},
   "encoding":{"x":{"field":"t","type":"quantitative","scale":{"domain":[58065.4,58639.8],"nice":false,"zero":false},"axis":{"orient":"top","values":[58100,58200,58300,58400,58500,58600],"labels":false,"title":null}},
   "y":{"field":"mg","type":"quantitative","scale":{"domain":[0,39],"nice":false,"zero":false},"axis":{"values":[0,10,20,30],"title":null,"labelOffset":-4}}}},
  {"mark":{"type":"circle","size":150,"fill":"#bfbf00","stroke":"black","strokeWidth":1,"opacity":1,"clip":true},
   "encoding":{"y":{"field":"yg","type":"quantitative","scale":{"domain":[0,39],"nice":false,"zero":false},"axis":{"values":[0,10,20,30],"title":null,"labelOffset":-4}}}},
  {"mark":{"type":"circle","size":150,"color":"black","opacity":1,"clip":true},
   "encoding":{"y":{"field":"fg2","type":"quantitative","scale":{"domain":[0,39],"nice":false,"zero":false},"axis":{"values":[0,10,20,30],"title":null,"labelOffset":-4}}}},
  {"mark":{"type":"circle","size":150,"color":"black","opacity":1,"clip":true},
   "encoding":{"y":{"field":"fg","type":"quantitative","scale":{"domain":[0,39],"nice":false,"zero":false},"axis":{"values":[0,10,20,30],"title":null,"labelOffset":-4}}}},
  {"data":{"values":[{"t":58122,"v":31,"s":"g"}]},"mark":{"type":"text","font":"DejaVu Serif","fontStyle":"italic","fontSize":18,"color":"black"},
   "encoding":{"y":{"field":"v","type":"quantitative","scale":{"domain":[0,39],"nice":false,"zero":false},"axis":{"values":[0,10,20,30],"title":null,"labelOffset":-4}},"text":{"field":"s"}}}
 ]
},
{
 "width":880,"height":105,
 "data":{"name":"lin"},
 "resolve":{"axis":{"x":"independent"}},
 "encoding":{"x":{"field":"t","type":"quantitative","scale":{"domain":[58065.4,58639.8],"nice":false,"zero":false},"axis":{"orient":"bottom","values":[58100,58200,58300,58400,58500,58600],"labels":false,"title":null}}},
 "layer":[
  {"mark":{"type":"line","color":"black","strokeWidth":2.5,"clip":true},
   "encoding":{"x":{"field":"t","type":"quantitative","scale":{"domain":[58065.4,58639.8],"nice":false,"zero":false},"axis":{"orient":"top","values":[58100,58200,58300,58400,58500,58600],"labels":false,"title":null}},
   "y":{"field":"dk","type":"quantitative","scale":{"domain":[10,17.15],"nice":false,"zero":false},"axis":{"values":[10,12,14,16],"title":"δ","titleFont":"DejaVu Serif","titleFontStyle":"italic","titleFontSize":18}}}},
  {"mark":{"type":"line","color":"#008000","strokeWidth":1.5,"clip":true},
   "encoding":{"y":{"field":"dn","type":"quantitative","scale":{"domain":[10,17.15],"nice":false,"zero":false},"axis":{"values":[10,12,14,16],"title":"δ","titleFont":"DejaVu Serif","titleFontStyle":"italic","titleFontSize":18}}}},
  {"mark":{"type":"line","color":"#ff0000","strokeWidth":1.6,"clip":true},
   "encoding":{"y":{"field":"dr","type":"quantitative","scale":{"domain":[10,17.15],"nice":false,"zero":false},"axis":{"values":[10,12,14,16],"title":"δ","titleFont":"DejaVu Serif","titleFontStyle":"italic","titleFontSize":18}}}}
 ]
},
{
 "width":880,"height":105,
 "data":{"name":"lin"},
 "resolve":{"axis":{"x":"independent"}},
 "encoding":{"x":{"field":"t","type":"quantitative","scale":{"domain":[58065.4,58639.8],"nice":false,"zero":false},"axis":{"orient":"bottom","values":[58100,58200,58300,58400,58500,58600],"labels":false,"title":null}}},
 "layer":[
  {"mark":{"type":"line","color":"black","strokeWidth":2.5,"clip":true},
   "encoding":{"x":{"field":"t","type":"quantitative","scale":{"domain":[58065.4,58639.8],"nice":false,"zero":false},"axis":{"orient":"top","values":[58100,58200,58300,58400,58500,58600],"labels":false,"title":null}},
   "y":{"field":"hk","type":"quantitative","scale":{"domain":[2.5,5.6],"nice":false,"zero":false},"axis":{"values":[3,4,5],"title":"θ","titleFont":"DejaVu Serif","titleFontStyle":"italic","titleFontSize":18}}}},
  {"mark":{"type":"line","color":"#008000","strokeWidth":1.5,"clip":true},
   "encoding":{"y":{"field":"hn","type":"quantitative","scale":{"domain":[2.5,5.6],"nice":false,"zero":false},"axis":{"values":[3,4,5],"title":"θ","titleFont":"DejaVu Serif","titleFontStyle":"italic","titleFontSize":18}}}},
  {"mark":{"type":"line","color":"#ff0000","strokeWidth":1.6,"clip":true},
   "encoding":{"y":{"field":"hr","type":"quantitative","scale":{"domain":[2.5,5.6],"nice":false,"zero":false},"axis":{"values":[3,4,5],"title":"θ","titleFont":"DejaVu Serif","titleFontStyle":"italic","titleFontSize":18}}}}
 ]
},
{
 "width":880,"height":105,
 "data":{"name":"obs"},
 "resolve":{"axis":{"x":"independent"}},
 "encoding":{"x":{"field":"t","type":"quantitative","scale":{"domain":[58065.4,58639.8],"nice":false,"zero":false},"axis":{"orient":"bottom","values":[58100,58200,58300,58400,58500,58600],"labels":false,"title":null}}},
 "layer":[
  {"mark":{"type":"errorbar","color":"black","thickness":1.5},
   "encoding":{"y":{"field":"b","type":"quantitative","scale":{"domain":[-2.5,-0.5],"nice":false,"zero":false},"axis":{"values":[-2.5,-2,-1.5,-1],"format":".1f","title":"−αgri","titleFont":"DejaVu Serif","titleFontStyle":"italic","titleFontSize":17}},"yError":{"field":"e"}}},
  {"mark":{"type":"circle","size":130,"color":"black","opacity":1,"clip":true},
   "encoding":{"x":{"field":"t","type":"quantitative","scale":{"domain":[58065.4,58639.8],"nice":false,"zero":false},"axis":{"orient":"top","values":[58100,58200,58300,58400,58500,58600],"labels":false,"title":null}},
   "y":{"field":"b","type":"quantitative","scale":{"domain":[-2.5,-0.5],"nice":false,"zero":false},"axis":{"values":[-2.5,-2,-1.5,-1],"format":".1f","title":"−αgri","titleFont":"DejaVu Serif","titleFontStyle":"italic","titleFontSize":17}}}},
  {"mark":{"type":"circle","size":130,"color":"black","opacity":1,"clip":true},
   "encoding":{"y":{"field":"b2","type":"quantitative","scale":{"domain":[-2.5,-0.5],"nice":false,"zero":false},"axis":{"values":[-2.5,-2,-1.5,-1],"format":".1f","title":"−αgri","titleFont":"DejaVu Serif","titleFontStyle":"italic","titleFontSize":17}}}},
  {"mark":{"type":"errorbar","color":"#008000","thickness":1.5},
   "encoding":{"y":{"field":"a","type":"quantitative","scale":{"domain":[-2.5,-0.5],"nice":false,"zero":false},"axis":{"values":[-2.5,-2,-1.5,-1],"format":".1f","title":"−αgri","titleFont":"DejaVu Serif","titleFontStyle":"italic","titleFontSize":17}},"yError":{"field":"e"}}},
  {"mark":{"type":"circle","size":130,"fill":"#008000","stroke":"black","strokeWidth":1,"opacity":1,"clip":true},
   "encoding":{"y":{"field":"a2","type":"quantitative","scale":{"domain":[-2.5,-0.5],"nice":false,"zero":false},"axis":{"values":[-2.5,-2,-1.5,-1],"format":".1f","title":"−αgri","titleFont":"DejaVu Serif","titleFontStyle":"italic","titleFontSize":17}}}},
  {"mark":{"type":"circle","size":130,"fill":"#008000","stroke":"black","strokeWidth":1,"opacity":1,"clip":true},
   "encoding":{"y":{"field":"a","type":"quantitative","scale":{"domain":[-2.5,-0.5],"nice":false,"zero":false},"axis":{"values":[-2.5,-2,-1.5,-1],"format":".1f","title":"−αgri","titleFont":"DejaVu Serif","titleFontStyle":"italic","titleFontSize":17}}}}
 ]
},
{
 "width":880,"height":104,
 "data":{"name":"obs"},
 "resolve":{"axis":{"x":"independent"}},
 "encoding":{"x":{"field":"t","type":"quantitative","scale":{"domain":[58065.4,58639.8],"nice":false,"zero":false},"axis":{"orient":"bottom","values":[58100,58200,58300,58400,58500,58600],"format":"d","title":"MJD (day)","labelPadding":20,"titlePadding":8}}},
 "layer":[
  {"mark":{"type":"errorbar","color":"#0000ff","thickness":1.5},
   "encoding":{"y":{"field":"d","type":"quantitative","scale":{"domain":[-1,0.9],"nice":false,"zero":false},"axis":{"values":[-1,-0.5,0,0.5],"format":".1f","title":"Δαgri","titleFont":"DejaVu Serif","titleFontStyle":"italic","titleFontSize":17}},"yError":{"field":"de"}}},
  {"data":{"values":[{"t":58060,"z":0},{"t":58645,"z":0}]},"mark":{"type":"line","color":"#0000ff","strokeWidth":1.5,"strokeDash":[7,5],"clip":true},
   "encoding":{"x":{"field":"t","type":"quantitative","scale":{"domain":[58065.4,58639.8],"nice":false,"zero":false},"axis":{"orient":"top","values":[58100,58200,58300,58400,58500,58600],"labels":false,"title":null}},
   "y":{"field":"z","type":"quantitative","scale":{"domain":[-1,0.9],"nice":false,"zero":false},"axis":{"values":[-1,-0.5,0,0.5],"format":".1f","title":"Δαgri","titleFont":"DejaVu Serif","titleFontStyle":"italic","titleFontSize":17}}}},
  {"mark":{"type":"circle","size":130,"fill":"#0000ff","stroke":"black","strokeWidth":1,"opacity":1,"clip":true},
   "encoding":{"y":{"field":"d","type":"quantitative","scale":{"domain":[-1,0.9],"nice":false,"zero":false},"axis":{"values":[-1,-0.5,0,0.5],"format":".1f","title":"Δαgri","titleFont":"DejaVu Serif","titleFontStyle":"italic","titleFontSize":17}}}}
 ]
}
]
}
